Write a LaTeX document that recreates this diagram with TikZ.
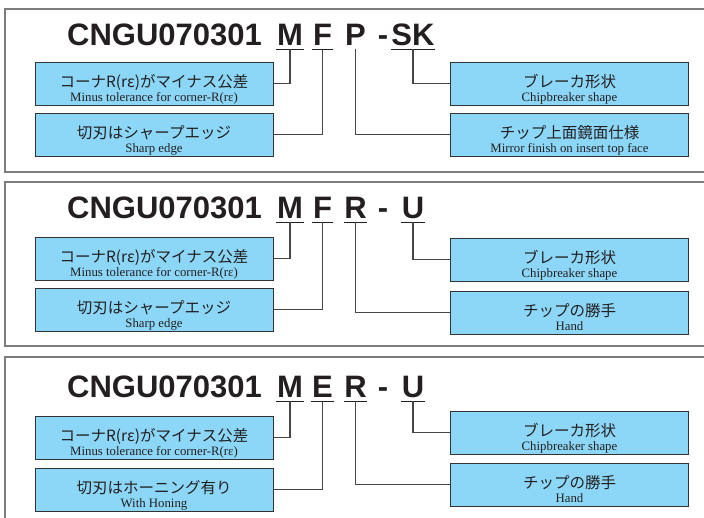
\documentclass[tikz,border=0pt]{standalone}
\usepackage{fontspec}
\setmainfont{Liberation Serif}
\newfontfamily\titlefont{Liberation Sans}
\newfontfamily\jpfont{Noto Sans CJK JP}
\usetikzlibrary{positioning}
\definecolor{boxblue}{RGB}{140,215,247}
\definecolor{framegray}{RGB}{125,125,125}
\definecolor{linegray}{RGB}{70,70,70}
\definecolor{inkblack}{RGB}{35,31,32}
\newcommand{\jpen}[2]{{\jpfont\fontsize{15.5}{14}\selectfont #1}\\#2}

\begin{document}
\begin{tikzpicture}[x=1pt, y=-1pt,
    node distance=7pt,
    panel/.style = {draw=framegray, line width=1.4pt},
    codebox/.style = {rectangle, draw=black!80, line width=1pt, fill=boxblue, minimum width=238pt, inner sep=0pt, text height=39pt, text depth=4pt, align=center, font=\fontsize{12.8}{14}\selectfont, text=inkblack},
    code/.style = {anchor=base west, inner sep=0pt, font=\titlefont\bfseries\fontsize{31}{31}\selectfont, text=inkblack},
    letter/.style = {anchor=base, inner xsep=0.5pt, inner ysep=4pt, text depth=0pt, font=\titlefont\bfseries\fontsize{31}{31}\selectfont, text=inkblack},
    uline/.style = {draw=inkblack, line width=1.4pt},
    conn/.style = {draw=linegray, line width=1.1pt}]

    \clip (0,0) rectangle (704,517);

    % panel 1: MFP-SK
    \draw[panel] (5,9) rectangle (710,172);
    \node[code] (C1) at (67,45) {CNGU070301};
    \node[letter] (M1) at (290,45) {M};
    \node[letter] (F1) at (322.5,45) {F};
    \node[letter] (P1) at (355.5,45) {P};
    \node[letter] (D1) at (383,45) {-};
    \node[letter] (S1) at (413,45) {SK};
    \draw[uline] (M1.south west) -- (M1.south east);
    \draw[uline] (F1.south west) -- (F1.south east);
    \draw[uline] (S1.south west) -- (S1.south east);

    \node[codebox] (A1) at (154,83.5) {\jpen{コーナR(rε)がマイナス公差}{Minus tolerance for corner-R(rε)}};
    \node[codebox, below=of A1] (A2) {\jpen{切刃はシャープエッジ}{Sharp edge}};
    \node[codebox] (B1) at (569.5,83.5) {\jpen{ブレーカ形状}{Chipbreaker shape}};
    \node[codebox, below=of B1] (B2) {\jpen{チップ上面鏡面仕様}{Mirror finish on insert top face}};

    \draw[conn] (M1.south) |- (A1.east);
    \draw[conn] (F1.south) |- (A2.east);
    \draw[conn] (P1.south) |- (B2.west);
    \draw[conn] (S1.south) |- (B1.west);

    % panel 2: MFR-U
    \draw[panel] (5,182) rectangle (710,346);
    \node[code] (C2) at (67,218) {CNGU070301};
    \node[letter] (M2) at (290,218) {M};
    \node[letter] (F2) at (322.5,218) {F};
    \node[letter] (R2) at (355.5,218) {R};
    \node[letter] (D2) at (383,218) {-};
    \node[letter] (U2) at (413,218) {U};
    \draw[uline] (M2.south west) -- (M2.south east);
    \draw[uline] (F2.south west) -- (F2.south east);
    \draw[uline] (R2.south west) -- (R2.south east);
    \draw[uline] (U2.south west) -- (U2.south east);

    \node[codebox] (A3) at (154,258.5) {\jpen{コーナR(rε)がマイナス公差}{Minus tolerance for corner-R(rε)}};
    \node[codebox, below=of A3] (A4) {\jpen{切刃はシャープエッジ}{Sharp edge}};
    \node[codebox] (B3) at (569.5,259.5) {\jpen{ブレーカ形状}{Chipbreaker shape}};
    \node[codebox, below=9pt of B3] (B4) {\jpen{チップの勝手}{Hand}};

    \draw[conn] (M2.south) |- (A3.east);
    \draw[conn] (F2.south) |- (A4.east);
    \draw[conn] (R2.south) |- (B4.west);
    \draw[conn] (U2.south) |- (B3.west);

    % panel 3: MER-U
    \draw[panel] (5,357) rectangle (710,540);
    \node[code] (C3) at (67,397) {CNGU070301};
    \node[letter] (M3) at (290,397) {M};
    \node[letter] (E3) at (322.5,397) {E};
    \node[letter] (R3) at (355.5,397) {R};
    \node[letter] (D3) at (383,397) {-};
    \node[letter] (U3) at (413,397) {U};
    \draw[uline] (M3.south west) -- (M3.south east);
    \draw[uline] (E3.south west) -- (E3.south east);
    \draw[uline] (R3.south west) -- (R3.south east);
    \draw[uline] (U3.south west) -- (U3.south east);

    \node[codebox] (A5) at (154,437.5) {\jpen{コーナR(rε)がマイナス公差}{Minus tolerance for corner-R(rε)}};
    \node[codebox, below=8pt of A5] (A6) {\jpen{切刃はホーニング有り}{With Honing}};
    \node[codebox] (B5) at (569.5,432.5) {\jpen{ブレーカ形状}{Chipbreaker shape}};
    \node[codebox, below=8pt of B5] (B6) {\jpen{チップの勝手}{Hand}};

    \draw[conn] (M3.south) |- (A5.east);
    \draw[conn] (E3.south) |- (A6.east);
    \draw[conn] (R3.south) |- (B6.west);
    \draw[conn] (U3.south) |- (B5.west);

\end{tikzpicture}
\end{document}
